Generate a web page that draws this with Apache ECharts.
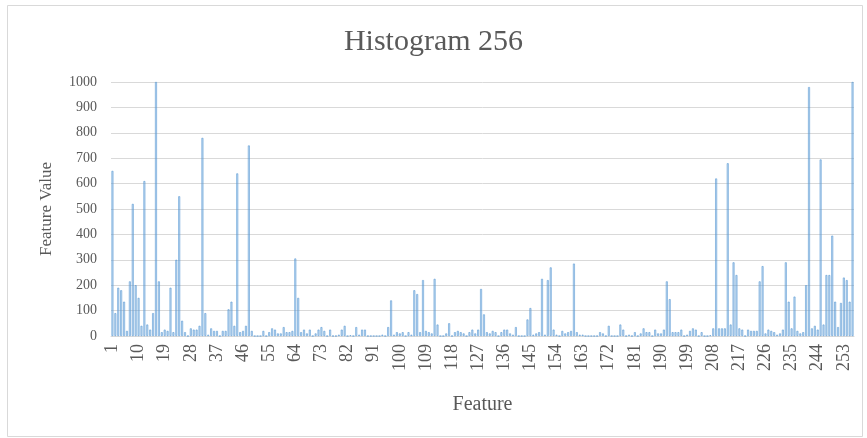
<!DOCTYPE html>
<html>
<head>
<meta charset="utf-8">
<script src="https://cdn.jsdelivr.net/npm/echarts@6/dist/echarts.min.js"></script>
<style>html,body{margin:0;padding:0;background:#fff;}#chart{width:867px;height:438px;}</style>
</head>
<body>
<div id="chart"></div>
<script>
const titleText = 'Histogram 256';
const xTitle = 'Feature';
const yTitle = 'Feature Value';
const categories = Array.from({length: 256}, (_, i) => String(i + 1));
const values = [
  650, 90, 190, 180, 135, 20, 215, 520, 200, 150,
  40, 610, 45, 25, 90, 1000, 215, 15, 25, 20,
  190, 15, 300, 550, 60, 15, 0, 30, 25, 25,
  40, 780, 90, 5, 30, 20, 20, 0, 20, 20,
  105, 135, 40, 640, 15, 20, 40, 750, 20, 0,
  0, 0, 20, 0, 15, 30, 25, 10, 10, 35,
  15, 15, 20, 305, 150, 15, 25, 10, 25, 0,
  10, 25, 35, 20, 0, 25, 0, 0, 5, 25,
  40, 0, 3, 0, 35, 5, 25, 25, 0, 0,
  0, 0, 0, 5, 0, 35, 140, 5, 15, 10,
  15, 0, 15, 5, 180, 165, 15, 220, 20, 15,
  10, 225, 45, 0, 0, 10, 50, 0, 15, 20,
  15, 10, 0, 15, 25, 10, 25, 185, 85, 15,
  10, 20, 15, 0, 15, 25, 25, 10, 5, 35,
  0, 0, 0, 65, 110, 5, 10, 15, 225, 5,
  220, 270, 25, 5, 0, 20, 10, 15, 20, 285,
  15, 5, 5, 0, 0, 0, 0, 0, 15, 10,
  0, 40, 0, 0, 0, 45, 25, 0, 5, 0,
  15, 0, 10, 30, 15, 15, 0, 25, 10, 10,
  25, 215, 145, 15, 15, 15, 25, 0, 5, 20,
  30, 25, 0, 15, 0, 0, 3, 30, 620, 30,
  30, 30, 680, 45, 290, 240, 30, 25, 0, 25,
  20, 20, 20, 215, 275, 10, 25, 20, 15, 5,
  10, 25, 290, 135, 30, 155, 20, 10, 15, 200,
  980, 30, 40, 25, 695, 45, 240, 240, 395, 135,
  35, 130, 230, 220, 135, 1000
];
const yMin = 0, yMax = 1000, yStep = 100;

const serif = '"Liberation Serif", "DejaVu Serif", serif';
const textColor = '#595959';

const chart = echarts.init(document.getElementById('chart'), null, {renderer: 'canvas'});
chart.setOption({
  animation: false,
  backgroundColor: '#ffffff',
  graphic: [{
    type: 'rect', left: 5, top: 3, shape: {width: 855, height: 431},
    style: {fill: 'none', stroke: '#d9d9d9', lineWidth: 1}, silent: true, z: -1
  }],
  title: {
    text: titleText, left: 'center', top: 22,
    textStyle: {fontFamily: serif, fontSize: 30, fontWeight: 'normal', color: textColor}
  },
  grid: {left: 111, right: 13, top: 82, bottom: 102, containLabel: false},
  xAxis: {
    type: 'category', data: categories,
    name: xTitle, nameLocation: 'middle', nameGap: 59,
    nameTextStyle: {fontFamily: serif, fontSize: 20, color: textColor},
    axisLine: {show: true, lineStyle: {color: '#d9d9d9'}},
    axisTick: {show: false},
    axisLabel: {interval: 8, rotate: 90, margin: 8, fontFamily: serif, fontSize: 18, color: textColor}
  },
  yAxis: {
    type: 'value', min: yMin, max: yMax, interval: yStep,
    name: yTitle, nameLocation: 'middle', nameGap: 56,
    nameTextStyle: {fontFamily: serif, fontSize: 17, color: textColor},
    axisLine: {show: false}, axisTick: {show: false},
    axisLabel: {margin: 14, fontFamily: serif, fontSize: 14, color: textColor, formatter: v => String(v)},
    splitLine: {show: true, lineStyle: {color: '#d9d9d9', width: 1}}
  },
  series: [{
    type: 'bar', data: values, barCategoryGap: '35%',
    itemStyle: {color: 'rgba(91,155,213,0.35)', borderColor: '#5b9bd5', borderWidth: 0.6}
  }]
});
</script>
</body>
</html>
